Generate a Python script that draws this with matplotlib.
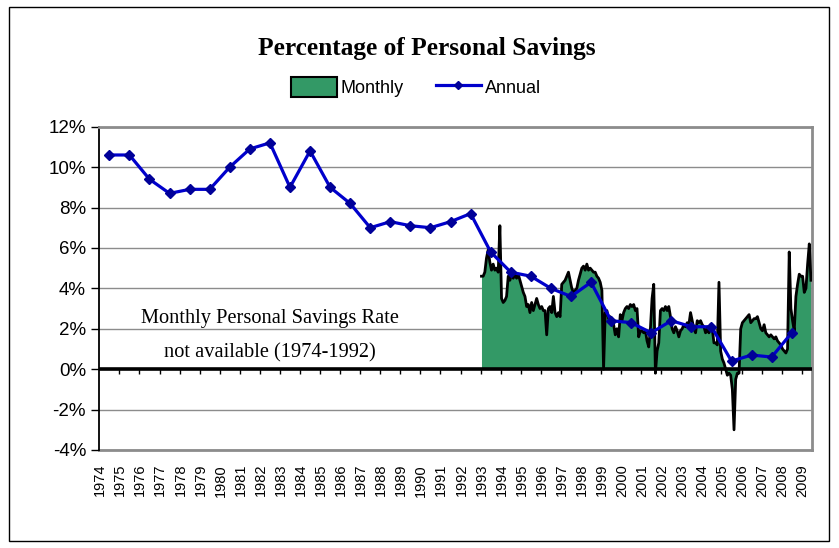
import matplotlib
matplotlib.use("Agg")
import matplotlib.pyplot as plt
from matplotlib.patches import Patch, Rectangle
from matplotlib.lines import Line2D
import numpy as np

# ---- data ----
annual_years = list(range(1974, 2009))
annual_values = [10.6, 10.6, 9.4, 8.7, 8.9, 8.9, 10.0, 10.9, 11.2, 9.0,
                 10.8, 9.0, 8.2, 7.0, 7.3, 7.1, 7.0, 7.3, 7.7, 5.8,
                 4.8, 4.6, 4.0, 3.6, 4.3, 2.4, 2.3, 1.8, 2.4, 2.1,
                 2.1, 0.4, 0.7, 0.6, 1.8]

monthly_start_year = 1993
monthly_values = [
    4.6, 4.6, 4.8, 5.5, 5.9, 5.3, 4.9, 5.2, 4.9, 5.0, 4.8, 7.1,   # 1993
    3.5, 3.3, 3.4, 3.6, 4.6, 4.4, 4.8, 4.5, 4.7, 4.5, 4.7, 4.4,   # 1994
    4.1, 3.8, 3.6, 3.1, 3.2, 2.8, 3.3, 2.9, 3.2, 3.5, 3.2, 3.0,   # 1995
    3.1, 2.9, 2.9, 1.7, 3.0, 3.1, 2.8, 3.6, 2.8, 2.6, 2.8, 2.6,   # 1996
    4.2, 4.3, 4.4, 4.6, 4.8, 4.4, 4.0, 3.8, 3.9, 4.0, 4.4, 4.7,   # 1997
    5.0, 5.1, 4.9, 5.2, 4.9, 5.0, 4.9, 4.8, 4.8, 4.6, 4.5, 4.3,   # 1998
    3.9, 0.0, 2.8, 2.9, 2.5, 2.6, 2.3, 2.2, 1.7, 2.0, 1.6, 2.7,   # 1999
    2.4, 2.8, 3.0, 3.1, 3.0, 3.2, 3.1, 3.2, 2.9, 3.0, 1.6, 1.9,   # 2000
    1.9, 1.8, 1.9, 1.4, 1.1, 2.0, 3.5, 4.2, -0.2, 0.9, 1.3, 2.9,  # 2001
    3.0, 2.9, 3.1, 2.9, 3.1, 2.6, 2.0, 1.8, 2.1, 1.9, 1.6, 1.9,   # 2002
    2.0, 2.2, 2.1, 2.3, 2.2, 2.8, 2.4, 2.0, 1.8, 2.4, 2.3, 2.4,   # 2003
    2.2, 2.1, 1.8, 2.0, 1.8, 2.2, 2.0, 1.3, 1.3, 1.2, 4.3, 0.9,   # 2004
    0.5, 0.3, 0.0, -0.3, -0.2, -0.3, -1.0, -3.0, -0.5, -0.2, -0.2, 2.0,  # 2005
    2.3, 2.4, 2.5, 2.6, 2.7, 2.3, 2.4, 2.5, 2.5, 2.6, 2.3, 2.0,   # 2006
    1.9, 2.2, 1.8, 1.7, 1.6, 1.7, 1.6, 1.5, 1.6, 1.4, 1.3, 1.2,   # 2007
    1.0, 0.9, 0.8, 1.0, 5.8, 3.0, 2.4, 1.9, 3.6, 4.2, 4.7, 4.6,   # 2008
    4.6, 3.8, 4.0, 5.2, 6.2, 4.4,                                 # 2009
]

year_labels = [str(y) for y in range(1974, 2010)]
yticks = [-4, -2, 0, 2, 4, 6, 8, 10, 12]

title = "Percentage of Personal Savings"
note_lines = ["Monthly Personal Savings Rate", "not available (1974-1992)"]

# ---- figure ----
W, H = 839, 548
fig = plt.figure(figsize=(W / 100, H / 100), dpi=100)
ax = fig.add_axes([99.3 / W, 1 - 450 / H, (811.8 - 99.3) / W, (450 - 126.7) / H])

green = "#339966"
blue = "#0000CC"

x_month = monthly_start_year + (np.arange(len(monthly_values)) + 0.5) / 12.0
x_annual = np.array(annual_years) + 0.5

ax.fill_between(x_month, monthly_values, 0, color=green, lw=0, zorder=2)
ax.plot(x_month, monthly_values, color="black", lw=2.0, zorder=3)
ax.axhline(0, color="black", lw=2.6, zorder=4)
ax.plot(x_annual, annual_values, color=blue, lw=2.3, marker="D", ms=4.8,
        mfc="#000099", mec="#000099", zorder=5)

ax.set_xlim(1974, 1974 + 426 / 12.0)
ax.set_ylim(-4, 12)
ax.set_yticks(yticks)
ax.set_yticklabels([f"{v}%" for v in yticks], fontsize=13.5, family="Liberation Sans")
ax.yaxis.grid(True, color="#8c8c8c", lw=1.0)
ax.set_axisbelow(True)

ax.spines["bottom"].set_position(("data", 0))
ax.spines["bottom"].set_visible(False)
ax.spines["left"].set_color("black")
ax.spines["left"].set_linewidth(1.3)
for s in ("top", "right"):
    ax.spines[s].set_color("#8c8c8c")
    ax.spines[s].set_linewidth(2.0)

ax.set_xticks(np.arange(1975, 2010))
ax.set_xticklabels([])
ax.tick_params(axis="x", direction="out", length=3.5, width=1.0, color="black")
ax.tick_params(axis="y", direction="out", length=5.5, width=1.0, pad=4)

sec = ax.secondary_xaxis(0.0)
sec.set_xticks(np.arange(1974, 2010) + 1 / 24.0)
sec.set_xticklabels(year_labels, rotation=90, fontsize=10.5, family="Liberation Sans")
sec.tick_params(length=0, pad=10)
sec.spines["bottom"].set_color("#8c8c8c")
sec.spines["bottom"].set_linewidth(2.0)

for txt, yv in zip(note_lines, [2.5, 0.8]):
    ax.text(1982.5, yv, txt, ha="center", va="center", fontsize=14.7,
            family="Liberation Serif", zorder=6)

fig.text(426.7 / W, 1 - 48 / H, title, ha="center", va="center", fontsize=18.3,
         fontweight="bold", family="Liberation Serif")

handles = [Patch(facecolor=green, edgecolor="black", lw=1.5, label="Monthly"),
           Line2D([], [], color=blue, lw=2.3, marker="D", ms=4,
                  mfc="#000099", mec="#000099", label="Annual")]
fig.legend(handles=handles, loc="center", bbox_to_anchor=(416 / W, 1 - 87 / H),
           ncol=2, frameon=False, prop={"family": "Liberation Sans", "size": 13},
           handlelength=2.5, handleheight=1.3, handletextpad=0.2, columnspacing=1.8)

fig.patches.append(Rectangle((9 / W, 1 - 541 / H), (829 - 9) / W, (541 - 7) / H,
                             transform=fig.transFigure, fill=False, ec="black", lw=1.0))

fig.savefig("out.png", dpi=100)
